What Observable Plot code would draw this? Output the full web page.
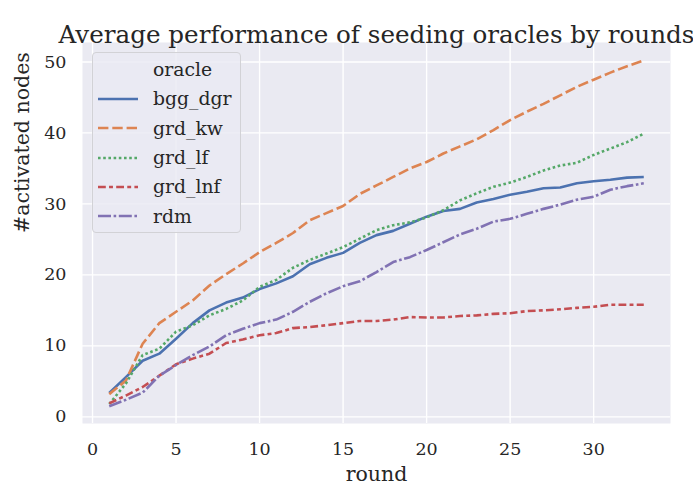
<!DOCTYPE html>
<html>
<head>
<meta charset="utf-8">
<script src="https://cdn.jsdelivr.net/npm/d3@7"></script>
<script src="https://cdn.jsdelivr.net/npm/@observablehq/plot@0.6"></script>
<style>
  body { margin: 0; background: white; }
  #wrap { position: relative; width: 693px; height: 484px; font-family: "DejaVu Serif", serif; color: #262626; }
  #legend { position: absolute; left: 92px; top: 52px; width: 147px; height: 177px;
    border: 1px solid #d2d2d6; border-radius: 4px; background: rgba(234,234,242,0.8);
    box-sizing: content-box; padding-top: 2px; }
  .row { display: flex; align-items: center; height: 29.3px; font-size: 18.8px; }
  .row svg { margin-left: 5px; margin-right: 15px; }
</style>
</head>
<body>
<div id="wrap"></div>
<script>
const rounds = d3.range(1, 34);
const oracles = ["bgg_dgr", "grd_kw", "grd_lf", "grd_lnf", "rdm"];
const bgg_dgr = [3.35,5.6,7.9,8.9,11.0,13.2,15.0,16.1,16.8,18.0,18.8,19.8,21.5,22.4,23.1,24.5,25.6,26.2,27.2,28.2,29.0,29.3,30.2,30.7,31.3,31.7,32.2,32.3,32.9,33.2,33.4,33.7,33.8];
const grd_kw = [3.2,5.1,10.3,13.2,14.8,16.4,18.5,20.1,21.6,23.2,24.5,25.9,27.7,28.7,29.7,31.4,32.6,33.8,35.0,35.9,37.1,38.1,39.1,40.4,41.8,43.0,44.1,45.3,46.5,47.5,48.5,49.4,50.2];
const grd_lf = [1.8,4.7,8.7,9.6,12.0,12.9,14.3,15.2,16.4,18.3,19.3,21.0,22.1,23.0,23.9,25.1,26.3,27.0,27.4,28.1,29.1,30.5,31.5,32.4,33.0,33.8,34.7,35.4,35.8,36.9,37.8,38.7,39.9];
const grd_lnf = [1.9,3.0,4.2,5.8,7.4,8.2,8.9,10.4,10.9,11.5,11.8,12.5,12.65,12.9,13.2,13.5,13.5,13.7,14.05,14.0,14.0,14.2,14.3,14.5,14.6,14.9,15.0,15.15,15.35,15.5,15.8,15.8,15.8];
const rdm = [1.5,2.4,3.4,5.8,7.3,8.7,9.9,11.5,12.4,13.2,13.7,14.8,16.2,17.4,18.4,19.1,20.4,21.8,22.5,23.5,24.6,25.7,26.5,27.5,27.9,28.6,29.3,29.9,30.6,31.0,32.0,32.5,32.9];
const xTicks = [0, 5, 10, 15, 20, 25, 30];
const yTicks = [0, 10, 20, 30, 40, 50];
const colors = ["#4C72B0", "#DD8452", "#55A868", "#C44E52", "#8172B3"];
const dashes = ["none", "10.4,3.9", "2.6,2.6", "7.8,3.25,3.9,3.25", "13,2.6,2.6,2.6"];
const titleText = "Average performance of seeding oracles by rounds";
const xLabel = "round";
const yLabel = "#activated nodes";

const seriesValues = [bgg_dgr, grd_kw, grd_lf, grd_lnf, rdm];
const table = oracles.flatMap((o, k) => rounds.map((r, i) => ({oracle: o, round: r, value: seriesValues[k][i]})));

const lw = 2.6;
const plot = Plot.plot({
  width: 693, height: 484,
  marginLeft: 82, marginRight: 23, marginTop: 42, marginBottom: 61,
  style: { fontFamily: "DejaVu Serif", fontSize: "17px", color: "#262626", background: "white", overflow: "visible" },
  x: { domain: [-0.6, 34.6] },
  y: { domain: [-0.94, 52.74] },
  marks: [
    Plot.frame({ fill: "#EAEAF2", stroke: null }),
    Plot.gridX(xTicks, { stroke: "white", strokeOpacity: 1, strokeWidth: 1.4 }),
    Plot.gridY(yTicks, { stroke: "white", strokeOpacity: 1, strokeWidth: 1.4 }),
    Plot.axisX(xTicks, { tickSize: 0, tickPadding: 19, label: null, fill: "#262626", fontSize: 17.5 }),
    Plot.axisY(yTicks, { tickSize: 0, tickPadding: 16, label: null, fill: "#262626", fontSize: 17.5 }),
    ...oracles.map((o, k) => Plot.line(table.filter(d => d.oracle === o), {
      x: "round", y: "value", stroke: colors[k], strokeWidth: lw,
      strokeDasharray: dashes[k], strokeLinecap: "butt", strokeLinejoin: "round"
    })),
    Plot.text([titleText], { text: d => d, frameAnchor: "top", dy: -17, fontSize: 24.6, fill: "#262626" }),
    Plot.text([xLabel], { text: d => d, frameAnchor: "bottom", dy: 57, fontSize: 20.5, fill: "#262626" }),
    Plot.text([yLabel], { text: d => d, frameAnchor: "left", dx: -60, rotate: -90, fontSize: 20.5, fill: "#262626" })
  ]
});
const wrap = document.getElementById("wrap");
wrap.appendChild(plot);

const legend = document.createElement("div");
legend.id = "legend";
const head = document.createElement("div");
head.className = "row";
head.innerHTML = `<svg width="40" height="6"></svg><span>oracle</span>`;
legend.appendChild(head);
oracles.forEach((o, k) => {
  const row = document.createElement("div");
  row.className = "row";
  row.innerHTML = `<svg width="40" height="6"><line x1="0" x2="40" y1="3" y2="3" stroke="${colors[k]}" stroke-width="${lw}" stroke-dasharray="${dashes[k]}"></line></svg><span>${o}</span>`;
  legend.appendChild(row);
});
wrap.appendChild(legend);
</script>
</body>
</html>
